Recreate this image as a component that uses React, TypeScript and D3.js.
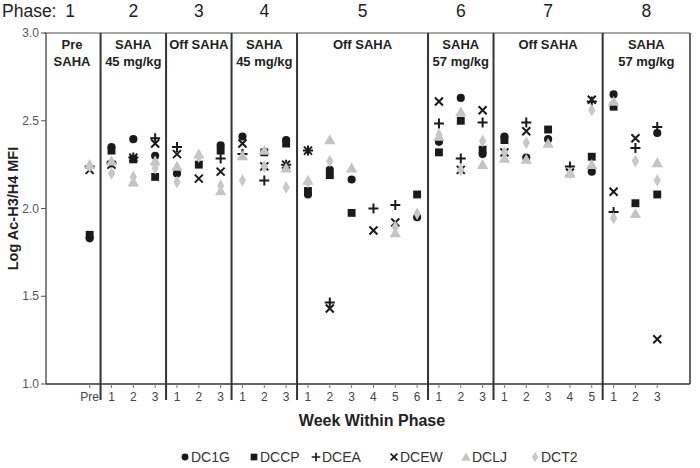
import React from "react";
import * as d3 from "d3";

const slotLabels = ["Pre","1","2","3","1","2","3","1","2","3","1","2","3","4","5","6","1","2","3","1","2","3","4","5","1","2","3"];
const phaseNumbers = ["1","2","3","4","5","6","7","8"];
const phaseEnd = [0,3,6,9,15,18,23,26];
const phaseHeaders = [["Pre","SAHA"],["SAHA","45 mg/kg"],["Off SAHA"],["SAHA","45 mg/kg"],["Off SAHA"],["SAHA","57 mg/kg"],["Off SAHA"],["SAHA","57 mg/kg"]];
const yTicks = [1.0, 1.5, 2.0, 2.5, 3.0];

const DC1G = [1.83,2.35,2.395,2.30,2.20,null,2.36,2.41,null,2.39,2.08,2.22,2.165,null,null,1.95,2.38,2.63,2.31,2.41,2.29,2.395,null,2.21,2.65,null,2.43];
const DCCP = [1.85,2.33,2.28,2.18,null,2.25,2.33,null,2.32,2.37,2.10,2.19,1.975,null,null,2.08,2.32,2.50,2.335,2.39,null,2.45,null,2.295,2.58,2.03,2.08];
const DCEA = [2.24,2.26,2.29,2.40,2.35,null,2.285,2.31,2.16,2.25,2.33,1.465,null,2.00,2.02,null,2.485,2.285,2.49,null,2.49,null,2.24,2.61,1.98,2.345,2.465];
const DCEW = [2.22,2.25,2.29,2.37,2.31,2.17,2.21,2.37,2.24,2.25,2.33,1.43,null,1.875,1.92,null,2.61,2.22,2.56,2.32,2.44,null,2.205,2.62,2.095,2.40,1.255];
const DCLJ = [2.25,2.27,2.15,2.27,2.24,2.31,2.10,2.30,2.33,2.23,2.16,2.39,2.23,null,1.86,null,2.41,2.55,2.25,2.285,2.28,2.37,2.20,2.25,2.61,1.97,2.26];
const DCT2 = [2.24,2.20,2.18,2.23,2.15,2.295,2.13,2.16,2.24,2.12,2.15,2.27,null,null,1.895,1.97,2.42,2.22,2.385,2.32,2.375,null,2.20,2.56,1.945,2.27,2.16];

const seriesNames = ["DC1G","DCCP","DCEA","DCEW","DCLJ","DCT2"];
const seriesValues = [DC1G, DCCP, DCEA, DCEW, DCLJ, DCT2];
const seriesShapes = ["circle","square","plus","cross","triangle","diamond"];
const seriesColors = ["#1a1a1a","#1a1a1a","#1a1a1a","#1a1a1a","#c4c4c4","#c8c8c8"];
const legendX = [185, 254, 316, 394, 466, 535];

const FONT = "'Liberation Sans', Arial, Helvetica, sans-serif";

function Marker({ shape, x, y, color, s = 1 }: { shape: string; x: number; y: number; color: string; s?: number }) {
  if (shape === "plus") {
    const h = 5 * s;
    return <path d={`M${x - h},${y}H${x + h}M${x},${y - h}V${y + h}`} stroke={color} strokeWidth={2 * s} fill="none" />;
  }
  if (shape === "cross") {
    const h = 4 * s;
    return <path d={`M${x - h},${y - h}L${x + h},${y + h}M${x - h},${y + h}L${x + h},${y - h}`} stroke={color} strokeWidth={2 * s} fill="none" />;
  }
  const typeMap: Record<string, any> = {
    circle: d3.symbolCircle,
    square: d3.symbolSquare,
    triangle: d3.symbolTriangle,
    diamond: d3.symbolDiamond,
  };
  const sizeMap: Record<string, number> = { circle: 52, square: 62, triangle: 56, diamond: 46 };
  const d = d3.symbol().type(typeMap[shape]).size(sizeMap[shape] * s * s)();
  const dy = shape === "triangle" ? 1 : 0;
  return <path d={d || ""} transform={`translate(${x},${y + dy})`} fill={color} />;
}

export default function App() {
  const W = 700, H = 468;
  const x = d3.scaleLinear().domain([-2, 27.5]).range([46, 690]);
  const y = d3.scaleLinear().domain([1, 3]).range([384, 33]);
  const left = x(-2), right = x(27.5), top = y(3), bottom = y(1);
  const dividers = phaseEnd.slice(0, 7).map((e) => x(e + 0.5));
  const boxEdges = [left, ...dividers, right];

  return (
    <svg width={W} height={H} style={{ position: "absolute", left: 0, top: 0, background: "#fff" }} fontFamily={FONT}>
      <text x={2} y={17} fontSize={17.5} fill="#222">Phase:</text>
      {phaseNumbers.map((p, i) => (
        <text key={p} x={i === 0 ? 70 : (boxEdges[i] + boxEdges[i + 1]) / 2} y={17} fontSize={17.5} fill="#222" textAnchor="middle">{p}</text>
      ))}
      <line x1={left - 2} x2={right} y1={top} y2={top} stroke="#8a8a8a" strokeWidth={1.5} />
      <line x1={left} x2={left} y1={top} y2={bottom} stroke="#333" strokeWidth={1.2} />
      <line x1={right} x2={right} y1={top} y2={bottom} stroke="#333" strokeWidth={1.5} />
      <line x1={left} x2={right} y1={bottom} y2={bottom} stroke="#333" strokeWidth={1.5} />
      {dividers.map((dx, i) => (
        <line key={i} x1={dx} x2={dx} y1={top} y2={bottom + 16} stroke="#333" strokeWidth={2} />
      ))}
      {yTicks.map((t) => (
        <g key={t}>
          <line x1={left - 5} x2={left} y1={y(t)} y2={y(t)} stroke="#555" strokeWidth={1} />
          <text x={left - 7} y={y(t) + 4} fontSize={12} fill="#555" textAnchor="end">{t.toFixed(1)}</text>
        </g>
      ))}
      <text transform={`translate(18,${(top + bottom) / 2}) rotate(-90)`} fontSize={14.5} fontWeight="bold" fill="#222" textAnchor="middle">Log Ac-H3/H4 MFI</text>
      {slotLabels.map((l, i) => (
        <g key={i}>
          <line x1={x(i)} x2={x(i)} y1={bottom} y2={bottom + 4} stroke="#777" strokeWidth={1} />
          <text x={x(i)} y={bottom + 17} fontSize={12} fill="#444" textAnchor="middle">{l}</text>
        </g>
      ))}
      <text x={372} y={426} fontSize={16} fontWeight="bold" fill="#222" textAnchor="middle">Week Within Phase</text>
      {phaseHeaders.map((lines, i) => {
        const cx = i === 0 ? 72 : (boxEdges[i] + boxEdges[i + 1]) / 2;
        return lines.map((ln, j) => (
          <text key={`${i}-${j}`} x={cx} y={49 + j * 17} fontSize={13} fontWeight="bold" fill="#222" textAnchor="middle">{ln}</text>
        ));
      })}
      {seriesValues.map((vals, si) => (
        <g key={seriesNames[si]}>
          {vals.map((v, i) => v == null ? null : (
            <Marker key={i} shape={seriesShapes[si]} x={x(i)} y={y(v)} color={seriesColors[si]} />
          ))}
        </g>
      ))}
      {seriesNames.map((n, i) => (
        <g key={n}>
          <Marker shape={seriesShapes[i]} x={legendX[i]} y={457} color={seriesColors[i]} s={0.85} />
          <text x={legendX[i] + 6} y={462} fontSize={14} fill="#333">{n}</text>
        </g>
      ))}
    </svg>
  );
}
